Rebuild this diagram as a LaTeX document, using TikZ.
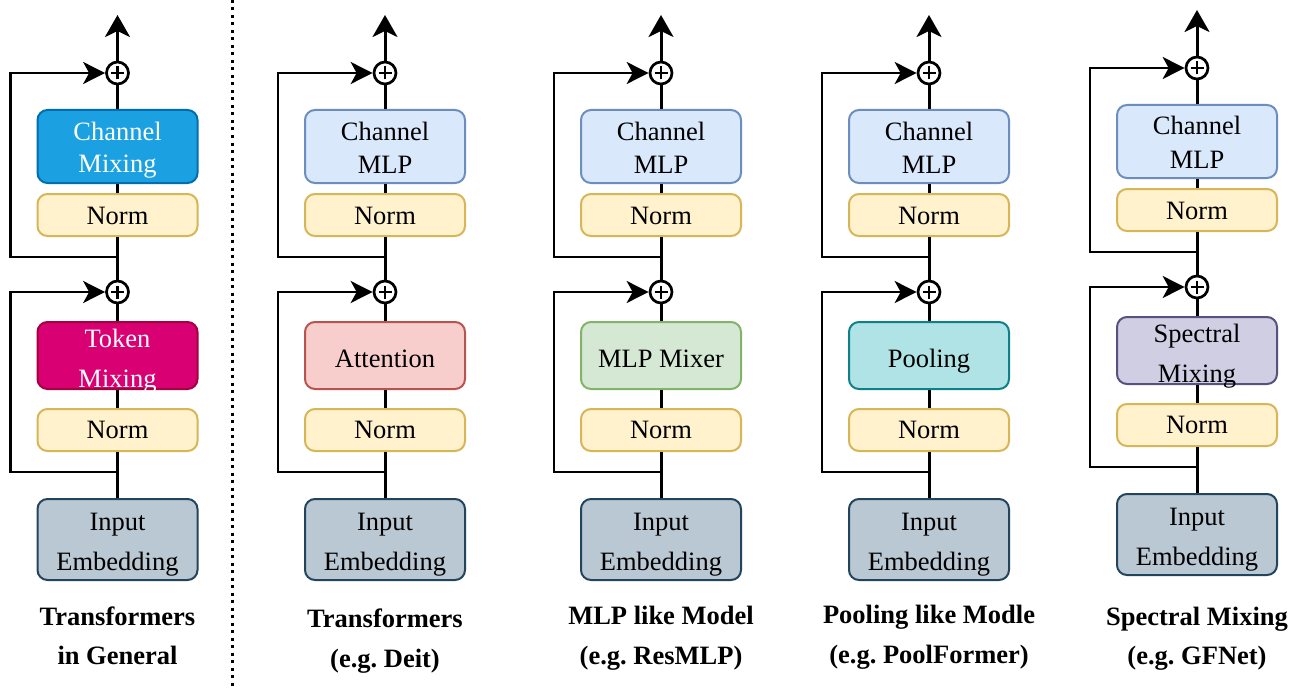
\documentclass[tikz,border=0pt]{standalone}
\usepackage{fontspec}
\setmainfont{Liberation Serif}
\usetikzlibrary{arrows.meta}
\frenchspacing
\definecolor{normfill}{HTML}{FFF2CC}\definecolor{normdraw}{HTML}{D6B656}
\definecolor{infill}{HTML}{BAC8D3}\definecolor{indraw}{HTML}{23445D}
\definecolor{cmfill}{HTML}{1BA1E2}\definecolor{cmdraw}{HTML}{006EAF}
\definecolor{tmfill}{HTML}{D80073}\definecolor{tmdraw}{HTML}{A50040}
\definecolor{mlpfill}{HTML}{DAE8FC}\definecolor{mlpdraw}{HTML}{6C8EBF}
\definecolor{attfill}{HTML}{F8CECC}\definecolor{attdraw}{HTML}{B85450}
\definecolor{mixfill}{HTML}{D5E8D4}\definecolor{mixdraw}{HTML}{82B366}
\definecolor{poolfill}{HTML}{B0E3E6}\definecolor{pooldraw}{HTML}{0E8088}
\definecolor{specfill}{HTML}{D0CEE2}\definecolor{specdraw}{HTML}{56517E}
\tikzset{
 blk/.style={draw, rounded corners=10pt, line width=2pt, minimum width=160pt, inner sep=0pt},
 normbox/.style={blk, fill=normfill, draw=normdraw, minimum height=42pt},
 chbox/.style={blk, minimum height=73pt},
 mixbox/.style={blk, minimum height=67pt},
 inbox/.style={blk, fill=infill, draw=indraw, minimum height=81pt},
 gench/.style={fill=cmfill, draw=cmdraw},
 gentok/.style={fill=tmfill, draw=tmdraw},
 mlpch/.style={fill=mlpfill, draw=mlpdraw},
 attn/.style={fill=attfill, draw=attdraw},
 mlpmix/.style={fill=mixfill, draw=mixdraw},
 pool/.style={fill=poolfill, draw=pooldraw},
 spec/.style={fill=specfill, draw=specdraw},
 plusnode/.style={circle, draw, line width=2.7pt, minimum size=22pt, inner sep=0pt, fill=white,
   path picture={\draw[line width=2.2pt]
     ([xshift=-6.5pt]path picture bounding box.center) -- ([xshift=6.5pt]path picture bounding box.center)
     ([yshift=-6.5pt]path picture bounding box.center) -- ([yshift=6.5pt]path picture bounding box.center);}},
 mainln/.style={line width=3pt},
 skipln/.style={line width=2.2pt, -{Stealth[length=22pt, width=22pt, inset=6pt]}},
 outarr/.style={line width=3pt, -{Stealth[length=22pt, width=25pt, inset=6pt]}},
 lbl/.style={font=\fontsize{26.5}{30}\selectfont, anchor=base, inner sep=0pt},
 ttl/.style={font=\fontsize{26.5}{30}\selectfont\bfseries, anchor=base, inner sep=0pt},
 sep/.style={line width=3pt, dash pattern=on 3pt off 4.5pt},
}
\newcommand\colskel[3]{%
 \node[chbox,#2] (#1ch) at (0,146.5) {};
 \node[normbox] (#1na) at (0,215) {};
 \node[mixbox,#3] (#1mx) at (0,355.5) {};
 \node[normbox] (#1nb) at (0,430) {};
 \node[inbox] (#1in) at (0,539.5) {};
 \node[plusnode] (#1pa) at (0,73) {};
 \node[plusnode] (#1pb) at (0,292) {};
 \coordinate (#1top) at (0,15);
 \coordinate (#1sa) at (0,257);
 \coordinate (#1sb) at (0,472);
 \coordinate (#1ka) at (-107,257);
 \coordinate (#1kb) at (-107,472);
 \draw[mainln] (#1in) -- (#1nb) (#1nb) -- (#1mx) (#1mx) -- (#1pb) (#1pb) -- (#1na) (#1na) -- (#1ch) (#1ch) -- (#1pa);
 \draw[outarr] (#1pa) -- (#1top);
 \draw[skipln] (#1sb) -- (#1kb) |- (#1pb.west);
 \draw[skipln] (#1sa) -- (#1ka) |- (#1pa.west);
 \node[lbl] (#1nat) at (0,224) {Norm};
 \node[lbl] (#1nbt) at (0,438) {Norm};
 \node[lbl] (#1int) at (0,530) {Input};
 \node[lbl] (#1inu) at (0,570) {Embedding};
}
\begin{document}
\begin{tikzpicture}[x=1pt, y=-1pt]
\fill[white] (0,0) rectangle (1303,690);
\useasboundingbox (0,0) rectangle (1303,690);
\coordinate (septop) at (232,0);
\coordinate (sepbot) at (232,690);
\draw[sep] (septop) -- (sepbot);
% column 1
\begin{scope}[xshift=117.5pt]
 \colskel{a}{gench}{gentok}
 \node[lbl, white] (acht) at (0,140) {Channel};
 \node[lbl, white] (achu) at (0,172) {Mixing};
 \node[lbl, white] (amxt) at (0,347) {Token};
 \node[lbl, white] (amxu) at (0,387) {Mixing};
\end{scope}
% column 2
\begin{scope}[xshift=385pt]
 \colskel{b}{mlpch}{attn}
 \node[lbl] (bcht) at (0,140) {Channel};
 \node[lbl] (bchu) at (0,173) {MLP};
 \node[lbl] (bmxt) at (0,367) {Attention};
\end{scope}
% column 3
\begin{scope}[xshift=661pt]
 \colskel{c}{mlpch}{mlpmix}
 \node[lbl] (ccht) at (0,140) {Channel};
 \node[lbl] (cchu) at (0,173) {MLP};
 \node[lbl] (cmxt) at (0,367) {MLP Mixer};
\end{scope}
% column 4
\begin{scope}[xshift=929pt]
 \colskel{d}{mlpch}{pool}
 \node[lbl] (dcht) at (0,140) {Channel};
 \node[lbl] (dchu) at (0,173) {MLP};
 \node[lbl] (dmxt) at (0,367) {Pooling};
\end{scope}
% column 5
\begin{scope}[xshift=1197pt, yshift=5pt]
 \colskel{e}{mlpch}{spec}
 \node[lbl] (echt) at (0,140) {Channel};
 \node[lbl] (echu) at (0,173) {MLP};
 \node[lbl] (emxt) at (0,347) {Spectral};
 \node[lbl] (emxu) at (0,387) {Mixing};
\end{scope}
% titles
\node[ttl] (t1a) at (117.5,625) {Transformers};
\node[ttl] (t1b) at (117.5,664) {in General};
\node[ttl] (t2a) at (385,627) {Transformers};
\node[ttl] (t2b) at (385,667) {(e.g. Deit)};
\node[ttl] (t3a) at (661,624) {MLP like Model};
\node[ttl] (t3b) at (661,664) {(e.g. ResMLP)};
\node[ttl] (t4a) at (929,623) {Pooling like Modle};
\node[ttl] (t4b) at (929,663) {(e.g. PoolFormer)};
\node[ttl] (t5a) at (1197,625) {Spectral Mixing};
\node[ttl] (t5b) at (1197,664) {(e.g. GFNet)};
\end{tikzpicture}
\end{document}
